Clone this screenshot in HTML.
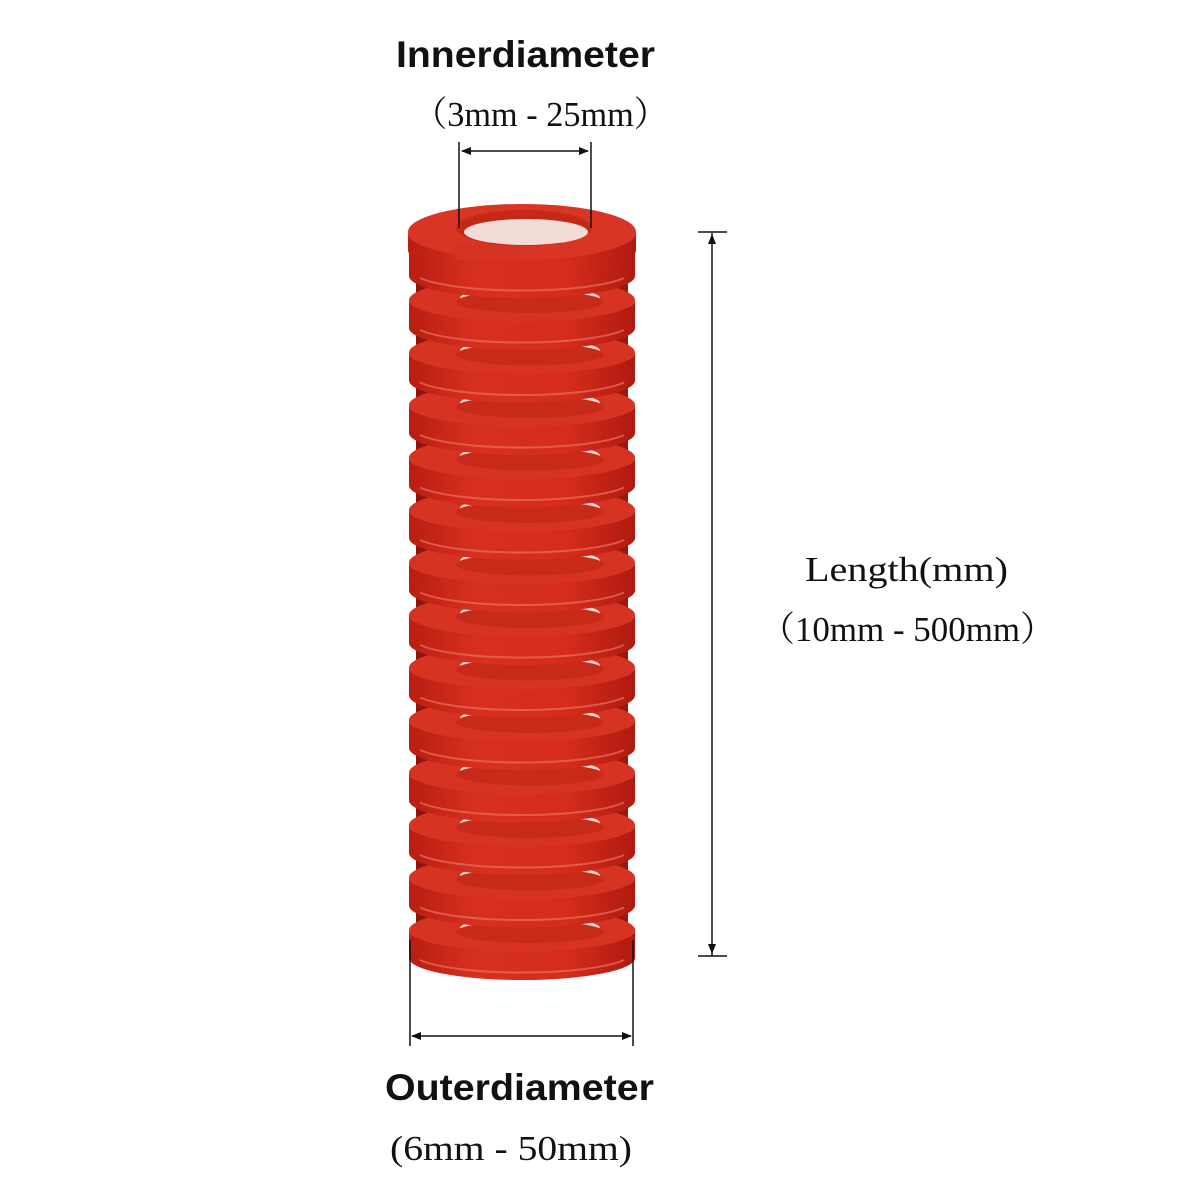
<!DOCTYPE html>
<html><head><meta charset="utf-8"><style>
html,body{margin:0;padding:0;background:#fff;width:1200px;height:1200px;overflow:hidden}
svg{display:block}
.b{font-family:"Liberation Sans",sans-serif;font-weight:bold;font-size:37px;fill:#111}
.s{font-family:"Liberation Serif","Noto Serif CJK SC",serif;font-size:35px;fill:#111}
</style></head><body>
<svg width="1200" height="1200" viewBox="0 0 1200 1200">
<defs>
<linearGradient id="band" x1="0" y1="0" x2="1" y2="0">
<stop offset="0" stop-color="#b81e12"/><stop offset="0.3" stop-color="#d8301f"/><stop offset="0.7" stop-color="#d52c1c"/><stop offset="1" stop-color="#b01a10"/>
</linearGradient>
<linearGradient id="bg" x1="0" y1="0" x2="1" y2="0">
<stop offset="0" stop-color="#8a140c"/><stop offset="0.5" stop-color="#c02618"/><stop offset="1" stop-color="#9a180e"/>
</linearGradient>
<g id="coil">
<ellipse cx="522" cy="0" rx="113" ry="22" fill="#d63322"/>
<ellipse cx="530" cy="-2" rx="70" ry="11" fill="#f0d8d4"/>
<ellipse cx="530" cy="2" rx="74" ry="11" fill="#c82a1a"/>
<path d="M409,0 A113,22 0 0 0 635,0 L635,28 A113,22 0 0 1 409,28 Z" fill="url(#band)"/>
<path d="M420,30 A110,20 0 0 0 624,30" fill="none" stroke="#e8705f" stroke-width="2" opacity="0.7"/>
</g>
</defs>
<rect x="416" y="240" width="212" height="720" fill="url(#bg)"/>
<use href="#coil" y="930"/>
<use href="#coil" y="877.5"/>
<use href="#coil" y="825"/>
<use href="#coil" y="772.5"/>
<use href="#coil" y="720"/>
<use href="#coil" y="667.5"/>
<use href="#coil" y="615"/>
<use href="#coil" y="562.5"/>
<use href="#coil" y="510"/>
<use href="#coil" y="457.5"/>
<use href="#coil" y="405"/>
<use href="#coil" y="352.5"/>
<use href="#coil" y="300"/>
<use href="#coil" y="248"/>
<path d="M408,232 A114,28 0 0 0 636,232 L636,250 A114,28 0 0 1 408,250 Z" fill="url(#band)"/>
<ellipse cx="522" cy="232" rx="114" ry="28" fill="#d93524"/>
<ellipse cx="524" cy="228" rx="68" ry="18" fill="#c62818"/>
<ellipse cx="526" cy="232" rx="62" ry="13" fill="#f2dcd8"/>
<path d="M455,244 L518,246 L520,262 L455,260 Z" fill="#d63322"/>
<g stroke="#111" stroke-width="1.5" fill="#111">
<line x1="459" y1="142" x2="459" y2="228"/><line x1="591" y1="142" x2="591" y2="228"/>
<line x1="462" y1="151" x2="588" y2="151"/>
<path d="M461,151 l10,-4 v8 z M589,151 l-10,-4 v8 z" stroke="none"/>
<line x1="712" y1="233" x2="712" y2="956"/>
<line x1="698" y1="232" x2="727" y2="232"/><line x1="698" y1="956" x2="727" y2="956"/>
<path d="M712,234 l-4,10 h8 z M712,954 l-4,-10 h8 z" stroke="none"/>
<line x1="410" y1="940" x2="410" y2="1046"/><line x1="633" y1="940" x2="633" y2="1046"/>
<line x1="412" y1="1036" x2="631" y2="1036"/>
<path d="M411,1036 l10,-4 v8 z M632,1036 l-10,-4 v8 z" stroke="none"/>
</g>
<text class="b" x="396" y="67" textLength="259" lengthAdjust="spacingAndGlyphs">Innerdiameter</text>
<text class="s" x="413" y="126" textLength="255" lengthAdjust="spacingAndGlyphs">（3mm - 25mm）</text>
<text class="s" x="805" y="581" textLength="203" lengthAdjust="spacingAndGlyphs">Length(mm)</text>
<text class="s" x="760" y="641" textLength="295" lengthAdjust="spacingAndGlyphs">（10mm - 500mm）</text>
<text class="b" x="385" y="1100" textLength="269" lengthAdjust="spacingAndGlyphs">Outerdiameter</text>
<text class="s" x="390" y="1160" textLength="242" lengthAdjust="spacingAndGlyphs">(6mm - 50mm)</text>
</svg>
</body></html>
